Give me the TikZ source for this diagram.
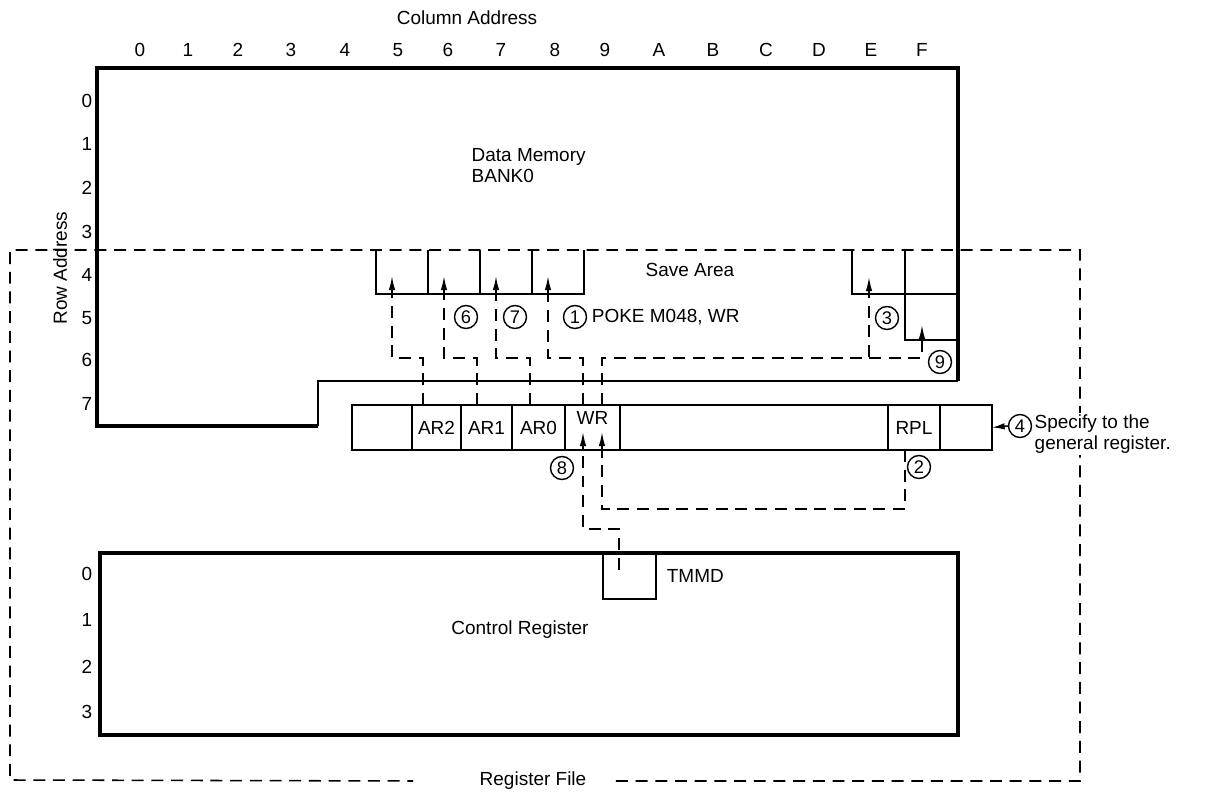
\documentclass[tikz,border=0pt]{standalone}
\usepackage{fontspec}
\setmainfont{Liberation Sans}
\usetikzlibrary{
    arrows.meta,
    positioning
}
\newlength{\unitpx}
\setlength{\unitpx}{0.025cm}
\tikzstyle{memline} = [
    line width=2.3pt,
    line join=miter
]
\tikzstyle{stepline} = [
    line width=1.3pt
]
\tikzstyle{cellline} = [
    line width=1.7pt
]
\tikzstyle{dline} = [
    line width=1.1pt,
    dash pattern=on 8.5pt off 5.5pt
]
\tikzstyle{tipline} = [
    -{Latex[length=10pt,width=4.6pt]},
    line width=1.1pt
]
\tikzstyle{regcell} = [
    rectangle,
    draw,
    line width=1pt,
    minimum height=45\unitpx,
    inner sep=0pt,
    outer sep=0pt,
    font=\fontsize{13.5}{15}\selectfont
]
\tikzstyle{savecell} = [
    rectangle,
    minimum width=52\unitpx,
    minimum height=44\unitpx,
    inner sep=0pt,
    outer sep=0pt
]
\tikzstyle{circnum} = [
    circle,
    draw,
    line width=1pt,
    minimum size=23\unitpx,
    inner sep=0pt,
    font=\fontsize{13}{13}\selectfont
]
\tikzstyle{lbl} = [
    inner sep=1pt,
    font=\fontsize{13.5}{15}\selectfont
]

\begin{document}
\begin{tikzpicture}[x=\unitpx, y=-0.025cm, node distance=0pt]
    \useasboundingbox (0,0) rectangle (1212,795);

    % addresses
    \node[lbl] (coladdr) at (467,18) {Column Address};
    \node[lbl, rotate=90] (rowaddr) at (60,268) {Row Address};
    \foreach \c/\x in {0/140,1/188,2/238,3/291,4/345,5/398,6/448,7/501,8/555,9/605,A/659,B/713,C/766,D/819,E/871,F/922}
        \node[lbl] (col\c) at (\x,50) {\c};
    \foreach \r/\y in {0/101,1/144,2/188,3/232,4/275,5/318,6/360,7/404}
        \node[lbl] (mrow\r) at (87,\y) {\r};
    \foreach \r/\y in {0/574,1/620,2/667,3/712}
        \node[lbl] (crow\r) at (87,\y) {\r};

    % data memory
    \draw[memline] (318,426) -- (97,426) -- (97,68) -- (958,68) -- (958,381);
    \draw[stepline] (958,381) -- (318,381) -- (318,426);
    \node[lbl, anchor=west, align=left] (dmem) at (470,166) {Data Memory\\BANK0};

    % save area
    \node[savecell] (c5) at (402,272) {};
    \node[savecell, right=of c5] (c6) {};
    \node[savecell, right=of c6] (c7) {};
    \node[savecell, right=of c7] (c8) {};
    \node[savecell, minimum width=53\unitpx] (cE) at (878.5,272) {};
    \node[savecell, right=of cE] (cF4) {};
    \node[savecell, below=of cF4, minimum height=46\unitpx] (cF5) {};
    \draw[cellline] (c5.north west) -- (c5.south west) -- (c8.south east) -- (c8.north east);
    \foreach \c in {c6,c7,c8}
        \draw[cellline] (\c.north west) -- (\c.south west);
    \draw[cellline] (cE.north west) -- (cE.south west) -- (cF4.south east);
    \draw[cellline] (cF4.north west) -- (cF5.south west) -- (cF5.south east);
    \node[lbl] (savearea) at (690,270) {Save Area};

    % register file frame
    \node[lbl] (rfile) at (533,781) {Register File};
    \draw[dline] ([xshift=28\unitpx]rfile.east) -| (1080,250) -| (10,780) -- ([xshift=-65\unitpx]rfile.west);

    % general register
    \node[regcell, minimum width=60\unitpx] (rg0) at (382,427.5) {};
    \node[regcell, minimum width=49\unitpx, right=of rg0] (ar2) {AR2};
    \node[regcell, minimum width=51\unitpx, right=of ar2] (ar1) {AR1};
    \node[regcell, minimum width=53\unitpx, right=of ar1] (ar0) {AR0};
    \node[regcell, minimum width=55\unitpx, right=of ar0] (wr) {};
    \node[regcell, minimum width=268\unitpx, right=of wr] (rmid) {};
    \node[regcell, minimum width=52\unitpx, right=of rmid] (rpl) {RPL};
    \node[regcell, minimum width=52\unitpx, right=of rpl] (rlast) {};
    \node[lbl, below=5\unitpx of wr.north] (wrtext) {WR};
    \draw[line width=1.9pt] (rg0.north west) rectangle (rlast.south east);

    % control register
    \node[draw, memline, minimum width=858\unitpx, minimum height=182\unitpx] (ctrl) at (529,644) {};
    \node[lbl] (ctrltext) at (520,630) {Control Register};
    \node[draw, cellline, minimum width=53\unitpx, minimum height=46\unitpx] (tmmd) at (629.5,576) {};
    \node[lbl, right=8\unitpx of tmmd] (tmmdtext) {TMMD};

    % saving AR2, AR1, AR0, WR
    \foreach \src/\dx/\dst in {ar2/11/c5, ar1/16/c6, ar0/18/c7, wr/18/c8} {
        \draw[dline] ([xshift=\dx\unitpx]\src.north west) -- ++(0,-47) -| ([xshift=16\unitpx]\dst.south west);
        \draw[tipline] ([xshift=16\unitpx]\dst.south west) -- ++(0,-18);
    }

    % saving WR to E and F
    \coordinate (ebend) at ([xshift=17\unitpx,yshift=-64\unitpx]cE.south west);
    \draw[dline] ([xshift=37\unitpx]wr.north west) |- (ebend) -- ([xshift=17\unitpx]cE.south west);
    \draw[dline] (ebend) -| ([xshift=17\unitpx]cF5.south west);
    \draw[tipline] ([xshift=17\unitpx]cE.south west) -- ++(0,-17);
    \draw[tipline] ([xshift=17\unitpx]cF5.south west) -- ++(0,-15);

    % loading WR
    \draw[dline] ([xshift=17\unitpx,yshift=-18\unitpx]tmmd.north west) -- ++(0,-41) -| ([xshift=18\unitpx]wr.south west);
    \draw[tipline] ([xshift=18\unitpx]wr.south west) -- ++(0,-18);
    \draw[dline] ([xshift=17\unitpx]rpl.south west) -- ++(0,59) -| ([xshift=37\unitpx]wr.south west);
    \draw[tipline] ([xshift=37\unitpx]wr.south west) -- ++(0,-18);

    % step numbers
    \node[circnum] (n6) at (466,317) {6};
    \node[circnum] (n7) at (515,317) {7};
    \node[circnum] (n1) at (575,317) {1};
    \node[lbl, right=3\unitpx of n1] (poke) {POKE M048, WR};
    \node[circnum] (n3) at (887,318) {3};
    \node[circnum] (n9) at (940,362) {9};
    \node[circnum] (n8) at (562,468) {8};
    \node[circnum] (n2) at (919,467) {2};
    \node[circnum] (n4) at (1020,426) {4};
    \draw[-{Latex[length=9pt,width=4.6pt]}, line width=1.1pt] (n4.west) -- (rlast.east);
    \node[lbl, fill=white, align=left, anchor=north west] (spec) at (1033,413) {Specify to the\\general register.};
\end{tikzpicture}
\end{document}
